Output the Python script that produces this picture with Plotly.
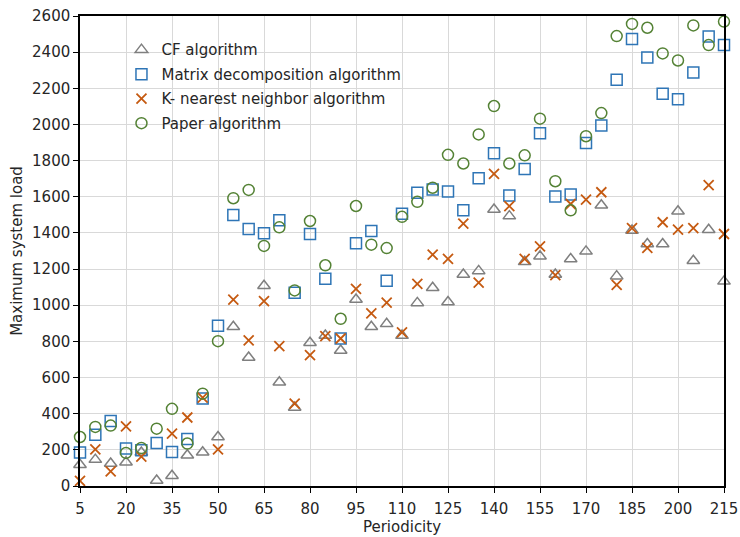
import plotly.graph_objects as go

periodicity = list(range(5, 220, 5))

cf = [118, 146, 124, 131, 185, 30, 57, 170, 187, 271,
      881, 711, 1108, 574, 434, 792, 833, 750, 1032, 881,
      897, 832, 1013, 1097, 1018, 1170, 1190, 1530, 1493, 1240,
      1271, 1170, 1256, 1298, 1553, 1161, 1414, 1339, 1339, 1520,
      1246, 1418, 1132]

matrix = [185, 284, 360, 207, 198, 238, 188, 260, 484, 886,
          1499, 1422, 1398, 1470, 1069, 1394, 1147, 816, 1343, 1411,
          1135, 1506, 1622, 1640, 1629, 1526, 1703, 1841, 1607, 1753,
          1951, 1601, 1612, 1898, 1994, 2247, 2473, 2371, 2170, 2140,
          2288, 2487, 2439]

knn = [28, 203, 81, 330, 162, None, 290, 379, 489, 203,
       1031, 805, 1023, 774, 456, 724, 829, 816, 1091, 955,
       1014, 850, 1118, 1280, 1256, 1452, 1125, 1727, 1548, 1256,
       1325, 1166, 1560, 1584, 1625, 1113, 1427, 1317, 1459, 1418,
       1427, 1664, 1394]

paper = [271, 327, 334, 183, 210, 317, 427, 235, 511, 801,
         1592, 1638, 1328, 1431, 1082, 1466, 1221, 925, 1549, 1335,
         1316, 1489, 1572, 1650, 1832, 1784, 1945, 2102, 1784, 1829,
         2032, 1686, 1525, 1935, 2063, 2489, 2556, 2535, 2393, 2354,
         2548, 2439, 2569]

x_ticks = list(range(5, 216, 15))
y_ticks = list(range(0, 2601, 200))

names = ["CF algorithm", "Matrix decomposition algorithm",
         "K- nearest neighbor algorithm", "Paper algorithm"]

FONT = "DejaVu Sans"
TXT = "#262626"
FS = 15

fig = go.Figure()
fig.add_trace(go.Scatter(
    x=periodicity, y=cf, mode="markers", name=names[0], legendgroup="a",
    cliponaxis=False,
    marker=dict(symbol="triangle-up-open", size=11, color="#7f7f7f",
                line=dict(width=1.5, color="#7f7f7f"))))
fig.add_trace(go.Scatter(
    x=periodicity, y=matrix, mode="markers", name=names[1], legendgroup="b",
    cliponaxis=False,
    marker=dict(symbol="square-open", size=11, color="#2e75b6",
                line=dict(width=1.5, color="#2e75b6"))))
fig.add_trace(go.Scatter(
    x=periodicity, y=knn, mode="markers", name=names[2], legendgroup="c",
    cliponaxis=False,
    marker=dict(symbol="x-thin", size=10, color="#c55a11",
                line=dict(width=1.8, color="#c55a11"))))
fig.add_trace(go.Scatter(
    x=periodicity, y=paper, mode="markers", name=names[3], legendgroup="d",
    cliponaxis=False,
    marker=dict(symbol="circle-open", size=11, color="#548235",
                line=dict(width=1.5, color="#548235"))))

fig.update_layout(
    width=740, height=537,
    margin=dict(l=80, r=16, t=16, b=51),
    paper_bgcolor="white", plot_bgcolor="white",
    font=dict(family=FONT, size=FS, color=TXT),
    showlegend=True,
    legend=dict(x=0.0644, y=0.963, xanchor="left", yanchor="top",
                bgcolor="rgba(0,0,0,0)", borderwidth=0,
                tracegroupgap=2, font=dict(family=FONT, size=FS, color=TXT)),
    xaxis=dict(range=[5, 215], tickvals=x_ticks, ticktext=[str(v) for v in x_ticks],
               showgrid=True, gridcolor="#d9d9d9", gridwidth=1,
               showline=True, linecolor="#000000", linewidth=1.5, mirror=True,
               ticks="outside", ticklen=5, tickcolor="#000000",
               ticklabelstandoff=3, automargin=False,
               zeroline=False,
               title=dict(text="Periodicity", standoff=2,
                          font=dict(family=FONT, size=FS, color=TXT))),
    yaxis=dict(range=[0, 2600], tickvals=y_ticks,
               showgrid=True, gridcolor="#d9d9d9", gridwidth=1,
               showline=True, linecolor="#000000", linewidth=1.5, mirror=True,
               ticks="outside", ticklen=5, tickcolor="#000000",
               zeroline=False, automargin=False,
               title=dict(text="Maximum system load", standoff=6,
                          font=dict(family=FONT, size=FS, color=TXT))),
)

fig.write_html("out.html", config={"displayModeBar": False},
               post_script="document.body.style.margin='0';document.body.style.padding='0';")
